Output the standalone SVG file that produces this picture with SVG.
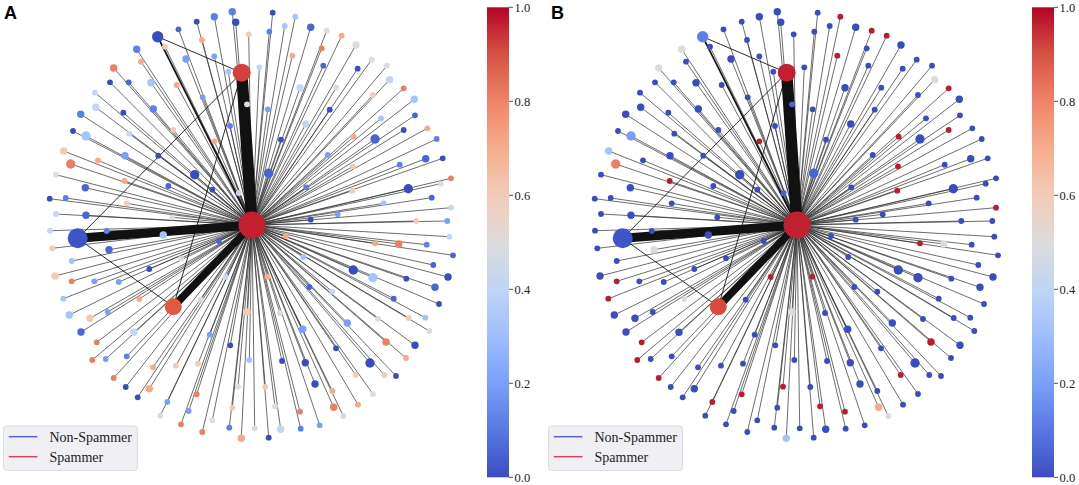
<svg xmlns="http://www.w3.org/2000/svg" xmlns:xlink="http://www.w3.org/1999/xlink" width="1079" height="485" viewBox="0 0 1079 485">
<style>
.sp{fill:none;stroke:#333;stroke-width:0.85;stroke-opacity:0.85}
.ex{fill:none;stroke:#151515;stroke-width:0.9}
.th{stroke:#111;stroke-linecap:butt}
.c0{fill:#3b4cc0}.c1{fill:#4b64d5}.c2{fill:#5f7fe8}.c3{fill:#7b9ff9}.c4{fill:#a5c3fe}.c5{fill:#c6d6f1}.c6{fill:#dddcdc}.c7{fill:#f2cbb7}.c8{fill:#f6a98b}.c9{fill:#ec7f63}.cr{fill:#bf1b30}
.lbl{font-family:"Liberation Sans",Arial,sans-serif;font-weight:bold;font-size:18px;fill:#000}
.tl{font-family:"Liberation Serif","DejaVu Serif",serif;font-size:12.5px;fill:#222}
.lg{font-family:"Liberation Serif","DejaVu Serif",serif;font-size:14px;fill:#222}
.tick{stroke:#222;stroke-width:0.8}
</style>
<defs>
<linearGradient id="cw" x1="0" y1="1" x2="0" y2="0">
<stop offset="0" stop-color="#3b4cc0"/><stop offset="0.1" stop-color="#5977e3"/><stop offset="0.2" stop-color="#7b9ff9"/><stop offset="0.3" stop-color="#9ebeff"/><stop offset="0.4" stop-color="#c0d4f5"/><stop offset="0.5" stop-color="#dddcdc"/><stop offset="0.6" stop-color="#f2cbb7"/><stop offset="0.7" stop-color="#f7ac8e"/><stop offset="0.8" stop-color="#ee8468"/><stop offset="0.9" stop-color="#d65244"/><stop offset="1" stop-color="#b40426"/>
</linearGradient>
<path id="spokes" d="M252 225L178.5 29.3M252 225L165 46.7M252 225L136.7 49.3M252 225L141 61.7M252 225L113.7 68M252 225L110 82.3M252 225L128.7 82.3M252 225L151 82.7M252 225L176.7 85M252 225L95 92.7M252 225L95.7 107.3M252 225L123.3 112.7M252 225L153.3 109M252 225L80.7 114.3M252 225L73 131M252 225L86 136M252 225L129.3 133.7M252 225L173.3 130M252 225L158.3 155.7M252 225L63.7 151M252 225L70.7 164M252 225L98 160.3M252 225L125 155.7M252 225L56 174.7M252 225L124.7 181M252 225L85.3 187.7M252 225L168.3 186M252 225L49.7 198.7M252 225L65.7 198M252 225L126.7 203.3M252 225L56 214M252 225L86 215.3M252 225L172.3 217.3M252 225L196.7 21.7M252 225L214.3 16.7M252 225L232.3 11.7M252 225L235.7 22.3M252 225L272.7 12.7M252 225L295.3 16.7M252 225L248.7 34.3M252 225L269.3 31.7M252 225L284.7 26M252 225L310.7 27.3M252 225L202 40M252 225L186 59M252 225L214.3 56.3M252 225L292.3 55.7M252 225L321.7 48.3M252 225L323.3 65.7M252 225L228.3 71.7M252 225L259.3 67.3M252 225L300 87.7M252 225L202.7 97.3M252 225L247 104.3M252 225L267.7 109.3M252 225L230 126M252 225L305.7 124M252 225L214.3 141.3M252 225L281 139.7M252 225L194.7 174.7M252 225L268.7 173.3M252 225L212.3 189.7M252 225L238.7 193M252 225L306.3 187.3M252 225L310.7 219.7M252 225L326.7 30.7M252 225L341.7 35.7M252 225L356 45M252 225L371.7 59.7M252 225L357.7 68.7M252 225L387 65.7M252 225L389.7 79.7M252 225L336.3 87.7M252 225L403.7 88.3M252 225L373 95M252 225L414.3 99.3M252 225L329.7 109.7M252 225L415 115.3M252 225L381 118.3M252 225L403.7 130M252 225L427.3 128.3M252 225L353.7 136.7M252 225L375 139M252 225L436.7 139M252 225L327.7 155M252 225L399.7 164.7M252 225L425.7 158.7M252 225L442.7 158.3M252 225L353 166.3M252 225L451 178.3M252 225L440.7 183.7M252 225L408.3 188.7M252 225L431.7 197.7M252 225L352.3 190.7M252 225L383.7 203.3M252 225L451 207.7M252 225L337.7 214.3M252 225L447.3 221M252 225L416.3 221M252 225L50 230.7M252 225L106.7 231M252 225L163.3 235M252 225L52.3 248.3M252 225L109 249.7M252 225L71.7 261M252 225L149.3 269M252 225L55 276M252 225L71.7 281.3M252 225L94.3 281.3M252 225L118.7 282M252 225L63.3 298.7M252 225L139.3 299M252 225L69.3 315M252 225L90 318.3M252 225L107.7 312M252 225L81 332M252 225L134 332.3M252 225L96.7 342.3M252 225L92.3 360M252 225L105.7 359M252 225L126.7 356.3M252 225L153 367.3M252 225L176 365.7M252 225L113.7 378M252 225L125.7 387M252 225L149.3 388.7M252 225L137.7 397.3M252 225L167.3 402M252 225L160.3 415.7M252 225L181 424.3M252 225L286 236M252 225L218.7 241M252 225L303.3 257M252 225L225.7 277M252 225L267.3 276.7M252 225L309.3 287M252 225L200.7 299.7M252 225L247 312M252 225L280 313M252 225L302.7 329.3M252 225L209.7 334.7M252 225L230.3 345.3M252 225L249.3 360M252 225L282 361M252 225L305.3 362.7M252 225L198 363.7M252 225L315 384M252 225L238 386.7M252 225L265.3 387M252 225L196.7 394.3M252 225L188.7 411M252 225L232.3 407.7M252 225L275 406.3M252 225L300 411.7M252 225L212.3 420.3M252 225L202.3 432M252 225L229.3 427.7M252 225L254.7 428.3M252 225L241.3 438.3M252 225L268.7 437.7M252 225L280.7 429.3M252 225L300.7 428.7M252 225L319.7 425.3M252 225L181 258.3M252 225L449.3 236.7M252 225L375 243.3M252 225L398.7 244M252 225L426.7 244.7M252 225L453 255.3M252 225L433.3 265M252 225L353.3 270M252 225L373 277.7M252 225L406.3 278.7M252 225L448 277M252 225L435 287.3M252 225L332.3 291.7M252 225L393.7 298.7M252 225L439 304M252 225L378 319M252 225L408.7 318M252 225L425.3 317.7M252 225L429.3 331M252 225L347.3 323M252 225L386 342M252 225L415 345.3M252 225L336 348.3M252 225L406 358M252 225L370 363M252 225L355.7 375M252 225L384.3 375M252 225L396 376M252 225L332.3 391M252 225L373 394M252 225L333.7 407.3M252 225L358 404.7M252 225L343.3 416"/>
<g id="edges">
<use xlink:href="#spokes" href="#spokes" class="sp"/>
<path class="ex" d="M157.7 36.7L241.7 72.7M241.7 72.7L77.7 238.3M241.7 72.7L173.3 306.7M77.7 238.3L173.3 306.7"/>
<path class="ex" style="stroke-width:1.8" d="M157.7 36.7L252 225"/>
<line class="th" x1="252" y1="225" x2="241.7" y2="72.7" stroke-width="11.5"/>
<line class="th" x1="252" y1="225" x2="77.7" y2="238.3" stroke-width="9"/>
<line class="th" x1="252" y1="225" x2="173.3" y2="306.7" stroke-width="7.5"/>
</g>
<g id="colorbar">
<rect x="487" y="7.3" width="22" height="470" fill="url(#cw)"/>
<path class="tick" d="M509 7.3h4M509 101.3h4M509 195.3h4M509 289.3h4M509 383.3h4M509 477.3h4"/>
<text class="tl" x="514.5" y="11.6">1.0</text>
<text class="tl" x="514.5" y="105.6">0.8</text>
<text class="tl" x="514.5" y="199.6">0.6</text>
<text class="tl" x="514.5" y="293.6">0.4</text>
<text class="tl" x="514.5" y="387.6">0.2</text>
<text class="tl" x="514.5" y="481.6">0.0</text>
</g>
<g id="legend">
<rect x="3.5" y="426" width="134" height="44.5" rx="3" fill="#efeff4" stroke="#d6d6dd" stroke-width="0.8"/>
<line x1="8.7" y1="436.7" x2="37.4" y2="436.7" stroke="#5866cc" stroke-width="1.5"/>
<line x1="8.7" y1="456.7" x2="37.4" y2="456.7" stroke="#cf4457" stroke-width="1.5"/>
<text class="lg" x="49.5" y="441.5">Non-Spammer</text>
<text class="lg" x="49.5" y="461.5">Spammer</text>
</g>
</defs>

<g id="panelA">
<text class="lbl" x="4" y="18.5">A</text>
<g id="connectorsA"><use xlink:href="#edges" href="#edges"/></g>
<g id="nodesA">
<circle id="a2" class="c1" cx="178.5" cy="29.3" r="2.9"/><circle id="a3" class="c7" cx="165" cy="46.7" r="2.9"/><circle id="a4" class="c2" cx="136.7" cy="49.3" r="3.7"/><circle id="a5" class="c8" cx="141" cy="61.7" r="2.9"/><circle id="a6" class="c9" cx="113.7" cy="68" r="3.7"/><circle id="a7" class="c0" cx="110" cy="82.3" r="2.9"/><circle id="a8" class="c1" cx="128.7" cy="82.3" r="2.9"/><circle id="a9" class="c4" cx="151" cy="82.7" r="3.7"/><circle id="a10" class="c8" cx="176.7" cy="85" r="2.9"/><circle id="a11" class="c5" cx="95" cy="92.7" r="2.9"/><circle id="a12" class="c5" cx="95.7" cy="107.3" r="3.7"/><circle id="a13" class="c0" cx="123.3" cy="112.7" r="2.9"/><circle id="a14" class="c2" cx="153.3" cy="109" r="3.7"/><circle id="a15" class="c2" cx="80.7" cy="114.3" r="3.7"/><circle id="a16" class="c0" cx="73" cy="131" r="2.9"/><circle id="a17" class="c4" cx="86" cy="136" r="4.7"/><circle id="a18" class="c5" cx="129.3" cy="133.7" r="2.9"/><circle id="a19" class="c7" cx="173.3" cy="130" r="2.9"/><circle id="a20" class="c0" cx="158.3" cy="155.7" r="2.9"/><circle id="a21" class="c7" cx="63.7" cy="151" r="3.7"/><circle id="a22" class="c9" cx="70.7" cy="164" r="4.7"/><circle id="a23" class="c8" cx="98" cy="160.3" r="2.9"/><circle id="a24" class="c3" cx="125" cy="155.7" r="3.7"/><circle id="a25" class="c6" cx="56" cy="174.7" r="2.9"/><circle id="a26" class="c8" cx="124.7" cy="181" r="2.9"/><circle id="a27" class="c1" cx="85.3" cy="187.7" r="3.7"/><circle id="a28" class="c1" cx="168.3" cy="186" r="2.9"/><circle id="a29" class="c0" cx="49.7" cy="198.7" r="2.9"/><circle id="a30" class="c2" cx="65.7" cy="198" r="2.9"/><circle id="a31" class="c7" cx="126.7" cy="203.3" r="2.9"/><circle id="a32" class="c5" cx="56" cy="214" r="2.9"/><circle id="a33" class="c1" cx="86" cy="215.3" r="3.7"/><circle id="a34" class="c6" cx="172.3" cy="217.3" r="2.9"/>
<circle id="a35" class="c0" cx="196.7" cy="21.7" r="2.9"/><circle id="a36" class="c2" cx="214.3" cy="16.7" r="3.7"/><circle id="a37" class="c2" cx="232.3" cy="11.7" r="3.7"/><circle id="a38" class="c0" cx="235.7" cy="22.3" r="3.7"/><circle id="a39" class="c0" cx="272.7" cy="12.7" r="2.9"/><circle id="a40" class="c4" cx="295.3" cy="16.7" r="2.9"/><circle id="a41" class="c7" cx="248.7" cy="34.3" r="2.9"/><circle id="a42" class="c2" cx="269.3" cy="31.7" r="2.9"/><circle id="a43" class="c4" cx="284.7" cy="26" r="2.9"/><circle id="a44" class="c1" cx="310.7" cy="27.3" r="3.7"/><circle id="a45" class="c8" cx="202" cy="40" r="2.9"/><circle id="a46" class="c3" cx="186" cy="59" r="3.7"/><circle id="a47" class="c3" cx="214.3" cy="56.3" r="2.9"/><circle id="a48" class="c8" cx="292.3" cy="55.7" r="2.9"/><circle id="a49" class="c9" cx="321.7" cy="48.3" r="2.9"/><circle id="a50" class="c1" cx="323.3" cy="65.7" r="2.9"/><circle id="a51" class="c4" cx="228.3" cy="71.7" r="2.9"/><circle id="a52" class="c5" cx="259.3" cy="67.3" r="2.9"/><circle id="a53" class="c5" cx="300" cy="87.7" r="3.7"/><circle id="a54" class="c3" cx="202.7" cy="97.3" r="2.9"/><circle id="a55" class="c6" cx="247" cy="104.3" r="2.9"/><circle id="a56" class="c3" cx="267.7" cy="109.3" r="2.9"/><circle id="a57" class="c2" cx="230" cy="126" r="2.9"/><circle id="a58" class="c5" cx="305.7" cy="124" r="3.7"/><circle id="a59" class="c8" cx="214.3" cy="141.3" r="2.9"/><circle id="a60" class="c0" cx="281" cy="139.7" r="2.9"/><circle id="a61" class="c0" cx="194.7" cy="174.7" r="4.7"/><circle id="a62" class="c1" cx="268.7" cy="173.3" r="4.7"/><circle id="a63" class="c0" cx="212.3" cy="189.7" r="2.9"/><circle id="a64" class="c5" cx="238.7" cy="193" r="2.9"/><circle id="a65" class="c2" cx="306.3" cy="187.3" r="2.9"/><circle id="a66" class="c0" cx="310.7" cy="219.7" r="2.9"/>
<circle id="a67" class="c6" cx="326.7" cy="30.7" r="2.9"/><circle id="a68" class="c8" cx="341.7" cy="35.7" r="2.9"/><circle id="a69" class="c6" cx="356" cy="45" r="3.7"/><circle id="a70" class="c6" cx="371.7" cy="59.7" r="2.9"/><circle id="a71" class="c0" cx="357.7" cy="68.7" r="2.9"/><circle id="a72" class="c6" cx="387" cy="65.7" r="2.9"/><circle id="a73" class="c5" cx="389.7" cy="79.7" r="3.7"/><circle id="a74" class="c6" cx="336.3" cy="87.7" r="2.9"/><circle id="a75" class="c9" cx="403.7" cy="88.3" r="2.9"/><circle id="a76" class="c7" cx="373" cy="95" r="2.9"/><circle id="a77" class="c4" cx="414.3" cy="99.3" r="3.7"/><circle id="a78" class="c0" cx="329.7" cy="109.7" r="2.9"/><circle id="a79" class="c1" cx="415" cy="115.3" r="2.9"/><circle id="a80" class="c4" cx="381" cy="118.3" r="2.9"/><circle id="a81" class="c0" cx="403.7" cy="130" r="2.9"/><circle id="a82" class="c8" cx="427.3" cy="128.3" r="2.9"/><circle id="a83" class="c8" cx="353.7" cy="136.7" r="2.9"/><circle id="a84" class="c1" cx="375" cy="139" r="4.7"/><circle id="a85" class="c2" cx="436.7" cy="139" r="2.9"/><circle id="a86" class="c3" cx="327.7" cy="155" r="2.9"/><circle id="a87" class="c2" cx="399.7" cy="164.7" r="2.9"/><circle id="a88" class="c1" cx="425.7" cy="158.7" r="3.7"/><circle id="a89" class="c0" cx="442.7" cy="158.3" r="2.9"/><circle id="a90" class="c7" cx="353" cy="166.3" r="2.9"/><circle id="a91" class="c9" cx="451" cy="178.3" r="2.9"/><circle id="a92" class="c6" cx="440.7" cy="183.7" r="2.9"/><circle id="a93" class="c0" cx="408.3" cy="188.7" r="4.7"/><circle id="a94" class="c1" cx="431.7" cy="197.7" r="2.9"/><circle id="a95" class="c7" cx="352.3" cy="190.7" r="2.9"/><circle id="a96" class="c4" cx="383.7" cy="203.3" r="2.9"/><circle id="a97" class="c5" cx="451" cy="207.7" r="2.9"/><circle id="a98" class="c3" cx="337.7" cy="214.3" r="2.9"/><circle id="a99" class="c3" cx="447.3" cy="221" r="2.9"/><circle id="a100" class="c7" cx="416.3" cy="221" r="2.9"/>
<circle id="a101" class="c5" cx="50" cy="230.7" r="2.9"/><circle id="a102" class="c2" cx="106.7" cy="231" r="2.9"/><circle id="a103" class="c4" cx="163.3" cy="235" r="3.7"/><circle id="a104" class="c7" cx="52.3" cy="248.3" r="2.9"/><circle id="a105" class="c1" cx="109" cy="249.7" r="3.7"/><circle id="a106" class="c4" cx="71.7" cy="261" r="2.9"/><circle id="a107" class="c0" cx="149.3" cy="269" r="2.9"/><circle id="a108" class="c7" cx="55" cy="276" r="3.7"/><circle id="a109" class="c9" cx="71.7" cy="281.3" r="2.9"/><circle id="a110" class="c3" cx="94.3" cy="281.3" r="2.9"/><circle id="a111" class="c3" cx="118.7" cy="282" r="2.9"/><circle id="a112" class="c4" cx="63.3" cy="298.7" r="2.9"/><circle id="a113" class="c8" cx="139.3" cy="299" r="2.9"/><circle id="a114" class="c4" cx="69.3" cy="315" r="3.7"/><circle id="a115" class="c7" cx="90" cy="318.3" r="3.7"/><circle id="a116" class="c3" cx="107.7" cy="312" r="2.9"/><circle id="a117" class="c1" cx="81" cy="332" r="3.7"/><circle id="a118" class="c5" cx="134" cy="332.3" r="3.7"/><circle id="a119" class="c9" cx="96.7" cy="342.3" r="2.9"/><circle id="a120" class="c9" cx="92.3" cy="360" r="2.9"/><circle id="a121" class="c3" cx="105.7" cy="359" r="2.9"/><circle id="a122" class="c2" cx="126.7" cy="356.3" r="2.9"/><circle id="a123" class="c8" cx="153" cy="367.3" r="2.9"/><circle id="a124" class="c7" cx="176" cy="365.7" r="2.9"/><circle id="a125" class="c9" cx="113.7" cy="378" r="2.9"/><circle id="a126" class="c0" cx="125.7" cy="387" r="2.9"/><circle id="a127" class="c8" cx="149.3" cy="388.7" r="3.7"/><circle id="a128" class="c0" cx="137.7" cy="397.3" r="2.9"/><circle id="a129" class="c3" cx="167.3" cy="402" r="2.9"/><circle id="a130" class="c6" cx="160.3" cy="415.7" r="2.9"/><circle id="a131" class="c9" cx="181" cy="424.3" r="2.9"/>
<circle id="a132" class="c8" cx="286" cy="236" r="2.9"/><circle id="a133" class="c1" cx="218.7" cy="241" r="2.9"/><circle id="a134" class="c4" cx="303.3" cy="257" r="2.9"/><circle id="a135" class="c5" cx="225.7" cy="277" r="2.9"/><circle id="a136" class="c8" cx="267.3" cy="276.7" r="2.9"/><circle id="a137" class="c1" cx="309.3" cy="287" r="2.9"/><circle id="a138" class="c6" cx="200.7" cy="299.7" r="2.9"/><circle id="a139" class="c7" cx="247" cy="312" r="3.7"/><circle id="a140" class="c6" cx="280" cy="313" r="2.9"/><circle id="a141" class="c3" cx="302.7" cy="329.3" r="3.7"/><circle id="a142" class="c3" cx="209.7" cy="334.7" r="2.9"/><circle id="a143" class="c0" cx="230.3" cy="345.3" r="2.9"/><circle id="a144" class="c4" cx="249.3" cy="360" r="2.9"/><circle id="a145" class="c0" cx="282" cy="361" r="2.9"/><circle id="a146" class="c0" cx="305.3" cy="362.7" r="3.7"/><circle id="a147" class="c7" cx="198" cy="363.7" r="2.9"/><circle id="a148" class="c0" cx="315" cy="384" r="3.7"/><circle id="a149" class="c6" cx="238" cy="386.7" r="2.9"/><circle id="a150" class="c7" cx="265.3" cy="387" r="2.9"/><circle id="a151" class="c9" cx="196.7" cy="394.3" r="2.9"/><circle id="a152" class="c3" cx="188.7" cy="411" r="2.9"/><circle id="a153" class="c7" cx="232.3" cy="407.7" r="2.9"/><circle id="a154" class="c6" cx="275" cy="406.3" r="2.9"/><circle id="a155" class="c9" cx="300" cy="411.7" r="2.9"/><circle id="a156" class="c6" cx="212.3" cy="420.3" r="2.9"/><circle id="a157" class="c9" cx="202.3" cy="432" r="2.9"/><circle id="a158" class="c2" cx="229.3" cy="427.7" r="2.9"/><circle id="a159" class="c6" cx="254.7" cy="428.3" r="2.9"/><circle id="a160" class="c8" cx="241.3" cy="438.3" r="3.7"/><circle id="a161" class="c0" cx="268.7" cy="437.7" r="2.9"/><circle id="a162" class="c5" cx="280.7" cy="429.3" r="3.7"/><circle id="a163" class="c2" cx="300.7" cy="428.7" r="2.9"/><circle id="a164" class="c3" cx="319.7" cy="425.3" r="2.9"/><circle id="a165" class="c6" cx="181" cy="258.3" r="2.9"/>
<circle id="a166" class="c5" cx="449.3" cy="236.7" r="2.9"/><circle id="a167" class="c8" cx="375" cy="243.3" r="2.9"/><circle id="a168" class="c9" cx="398.7" cy="244" r="3.7"/><circle id="a169" class="c2" cx="426.7" cy="244.7" r="2.9"/><circle id="a170" class="c1" cx="453" cy="255.3" r="2.9"/><circle id="a171" class="c1" cx="433.3" cy="265" r="2.9"/><circle id="a172" class="c0" cx="353.3" cy="270" r="4.7"/><circle id="a173" class="c4" cx="373" cy="277.7" r="4.7"/><circle id="a174" class="c0" cx="406.3" cy="278.7" r="2.9"/><circle id="a175" class="c0" cx="448" cy="277" r="3.7"/><circle id="a176" class="c1" cx="435" cy="287.3" r="3.7"/><circle id="a177" class="c5" cx="332.3" cy="291.7" r="2.9"/><circle id="a178" class="c1" cx="393.7" cy="298.7" r="2.9"/><circle id="a179" class="c0" cx="439" cy="304" r="2.9"/><circle id="a180" class="c6" cx="378" cy="319" r="2.9"/><circle id="a181" class="c7" cx="408.7" cy="318" r="2.9"/><circle id="a182" class="c4" cx="425.3" cy="317.7" r="2.9"/><circle id="a183" class="c6" cx="429.3" cy="331" r="2.9"/><circle id="a184" class="c3" cx="347.3" cy="323" r="3.7"/><circle id="a185" class="c9" cx="386" cy="342" r="3.7"/><circle id="a186" class="c0" cx="415" cy="345.3" r="3.7"/><circle id="a187" class="c0" cx="336" cy="348.3" r="2.9"/><circle id="a188" class="c8" cx="406" cy="358" r="2.9"/><circle id="a189" class="c0" cx="370" cy="363" r="4.7"/><circle id="a190" class="c7" cx="355.7" cy="375" r="2.9"/><circle id="a191" class="c7" cx="384.3" cy="375" r="2.9"/><circle id="a192" class="c0" cx="396" cy="376" r="2.9"/><circle id="a193" class="c8" cx="332.3" cy="391" r="2.9"/><circle id="a194" class="c6" cx="373" cy="394" r="2.9"/><circle id="a195" class="c9" cx="333.7" cy="407.3" r="3.7"/><circle id="a196" class="c8" cx="358" cy="404.7" r="2.9"/><circle id="a197" class="c6" cx="343.3" cy="416" r="2.9"/>
<g id="a1"><circle class="c0" cx="157.7" cy="36.7" r="5.7"/></g>
<g id="topA"><circle cx="241.7" cy="72.7" r="9" fill="#d6403a"/></g>
<g id="leftA"><circle cx="77.7" cy="238.3" r="10" fill="#3f53c6"/></g>
<g id="bottomA"><circle cx="173.3" cy="306.7" r="8.5" fill="#e05a45"/></g>
<g id="hubA"><circle cx="252" cy="225" r="13.5" fill="#c4202f"/></g>
</g>
<use xlink:href="#colorbar" href="#colorbar"/>
<use xlink:href="#legend" href="#legend"/>
</g>

<g id="panelB" transform="translate(545,0)">
<text class="lbl" x="6" y="18.5">B</text>
<g id="connectorsB"><use xlink:href="#edges" href="#edges"/></g>
<g id="nodesB">
<circle id="b2" class="c0" cx="178.5" cy="29.3" r="2.9"/><circle id="b3" class="c0" cx="165" cy="46.7" r="2.9"/><circle id="b4" class="c6" cx="136.7" cy="49.3" r="3.7"/><circle id="b5" class="c0" cx="141" cy="61.7" r="2.9"/><circle id="b6" class="c6" cx="113.7" cy="68" r="3.7"/><circle id="b7" class="c0" cx="110" cy="82.3" r="2.9"/><circle id="b8" class="c0" cx="128.7" cy="82.3" r="2.9"/><circle id="b9" class="c0" cx="151" cy="82.7" r="3.7"/><circle id="b10" class="c0" cx="176.7" cy="85" r="2.9"/><circle id="b11" class="c0" cx="95" cy="92.7" r="2.9"/><circle id="b12" class="c0" cx="95.7" cy="107.3" r="3.7"/><circle id="b13" class="c0" cx="123.3" cy="112.7" r="2.9"/><circle id="b14" class="c0" cx="153.3" cy="109" r="3.7"/><circle id="b15" class="c0" cx="80.7" cy="114.3" r="3.7"/><circle id="b16" class="c0" cx="73" cy="131" r="2.9"/><circle id="b17" class="c3" cx="86" cy="136" r="4.7"/><circle id="b18" class="c0" cx="129.3" cy="133.7" r="2.9"/><circle id="b19" class="c0" cx="173.3" cy="130" r="2.9"/><circle id="b20" class="c0" cx="158.3" cy="155.7" r="2.9"/><circle id="b21" class="c4" cx="63.7" cy="151" r="3.7"/><circle id="b22" class="c9" cx="70.7" cy="164" r="4.7"/><circle id="b23" class="c0" cx="98" cy="160.3" r="2.9"/><circle id="b24" class="c0" cx="125" cy="155.7" r="3.7"/><circle id="b25" class="c0" cx="56" cy="174.7" r="2.9"/><circle id="b26" class="cr" cx="124.7" cy="181" r="2.9"/><circle id="b27" class="c0" cx="85.3" cy="187.7" r="3.7"/><circle id="b28" class="c0" cx="168.3" cy="186" r="2.9"/><circle id="b29" class="c0" cx="49.7" cy="198.7" r="2.9"/><circle id="b30" class="c0" cx="65.7" cy="198" r="2.9"/><circle id="b31" class="c0" cx="126.7" cy="203.3" r="2.9"/><circle id="b32" class="c0" cx="56" cy="214" r="2.9"/><circle id="b33" class="c0" cx="86" cy="215.3" r="3.7"/><circle id="b34" class="c0" cx="172.3" cy="217.3" r="2.9"/>
<circle id="b35" class="c0" cx="196.7" cy="21.7" r="2.9"/><circle id="b36" class="c0" cx="214.3" cy="16.7" r="3.7"/><circle id="b37" class="c0" cx="232.3" cy="11.7" r="3.7"/><circle id="b38" class="c0" cx="235.7" cy="22.3" r="3.7"/><circle id="b39" class="c0" cx="272.7" cy="12.7" r="2.9"/><circle id="b40" class="cr" cx="295.3" cy="16.7" r="2.9"/><circle id="b41" class="c0" cx="248.7" cy="34.3" r="2.9"/><circle id="b42" class="c0" cx="269.3" cy="31.7" r="2.9"/><circle id="b43" class="c0" cx="284.7" cy="26" r="2.9"/><circle id="b44" class="c0" cx="310.7" cy="27.3" r="3.7"/><circle id="b45" class="c0" cx="202" cy="40" r="2.9"/><circle id="b46" class="c0" cx="186" cy="59" r="3.7"/><circle id="b47" class="c0" cx="214.3" cy="56.3" r="2.9"/><circle id="b48" class="cr" cx="292.3" cy="55.7" r="2.9"/><circle id="b49" class="c0" cx="321.7" cy="48.3" r="2.9"/><circle id="b50" class="c0" cx="323.3" cy="65.7" r="2.9"/><circle id="b51" class="c0" cx="228.3" cy="71.7" r="2.9"/><circle id="b52" class="c0" cx="259.3" cy="67.3" r="2.9"/><circle id="b53" class="c0" cx="300" cy="87.7" r="3.7"/><circle id="b54" class="c0" cx="202.7" cy="97.3" r="2.9"/><circle id="b55" class="c1" cx="247" cy="104.3" r="2.9"/><circle id="b56" class="c0" cx="267.7" cy="109.3" r="2.9"/><circle id="b57" class="c0" cx="230" cy="126" r="2.9"/><circle id="b58" class="c0" cx="305.7" cy="124" r="3.7"/><circle id="b59" class="cr" cx="214.3" cy="141.3" r="2.9"/><circle id="b60" class="c0" cx="281" cy="139.7" r="2.9"/><circle id="b61" class="c0" cx="194.7" cy="174.7" r="4.7"/><circle id="b62" class="c1" cx="268.7" cy="173.3" r="4.7"/><circle id="b63" class="c0" cx="212.3" cy="189.7" r="2.9"/><circle id="b64" class="c1" cx="238.7" cy="193" r="2.9"/><circle id="b65" class="c0" cx="306.3" cy="187.3" r="2.9"/><circle id="b66" class="c0" cx="310.7" cy="219.7" r="2.9"/>
<circle id="b67" class="cr" cx="326.7" cy="30.7" r="2.9"/><circle id="b68" class="cr" cx="341.7" cy="35.7" r="2.9"/><circle id="b69" class="c0" cx="356" cy="45" r="3.7"/><circle id="b70" class="c0" cx="371.7" cy="59.7" r="2.9"/><circle id="b71" class="c0" cx="357.7" cy="68.7" r="2.9"/><circle id="b72" class="c0" cx="387" cy="65.7" r="2.9"/><circle id="b73" class="c6" cx="389.7" cy="79.7" r="3.7"/><circle id="b74" class="c0" cx="336.3" cy="87.7" r="2.9"/><circle id="b75" class="cr" cx="403.7" cy="88.3" r="2.9"/><circle id="b76" class="c0" cx="373" cy="95" r="2.9"/><circle id="b77" class="c0" cx="414.3" cy="99.3" r="3.7"/><circle id="b78" class="c0" cx="329.7" cy="109.7" r="2.9"/><circle id="b79" class="c0" cx="415" cy="115.3" r="2.9"/><circle id="b80" class="c0" cx="381" cy="118.3" r="2.9"/><circle id="b81" class="cr" cx="403.7" cy="130" r="2.9"/><circle id="b82" class="c0" cx="427.3" cy="128.3" r="2.9"/><circle id="b83" class="cr" cx="353.7" cy="136.7" r="2.9"/><circle id="b84" class="c0" cx="375" cy="139" r="4.7"/><circle id="b85" class="c0" cx="436.7" cy="139" r="2.9"/><circle id="b86" class="c0" cx="327.7" cy="155" r="2.9"/><circle id="b87" class="c0" cx="399.7" cy="164.7" r="2.9"/><circle id="b88" class="c0" cx="425.7" cy="158.7" r="3.7"/><circle id="b89" class="c0" cx="442.7" cy="158.3" r="2.9"/><circle id="b90" class="cr" cx="353" cy="166.3" r="2.9"/><circle id="b91" class="c0" cx="451" cy="178.3" r="2.9"/><circle id="b92" class="c0" cx="440.7" cy="183.7" r="2.9"/><circle id="b93" class="c0" cx="408.3" cy="188.7" r="4.7"/><circle id="b94" class="c0" cx="431.7" cy="197.7" r="2.9"/><circle id="b95" class="cr" cx="352.3" cy="190.7" r="2.9"/><circle id="b96" class="c0" cx="383.7" cy="203.3" r="2.9"/><circle id="b97" class="cr" cx="451" cy="207.7" r="2.9"/><circle id="b98" class="c0" cx="337.7" cy="214.3" r="2.9"/><circle id="b99" class="c0" cx="447.3" cy="221" r="2.9"/><circle id="b100" class="c0" cx="416.3" cy="221" r="2.9"/>
<circle id="b101" class="c0" cx="50" cy="230.7" r="2.9"/><circle id="b102" class="c0" cx="106.7" cy="231" r="2.9"/><circle id="b103" class="c0" cx="163.3" cy="235" r="3.7"/><circle id="b104" class="c0" cx="52.3" cy="248.3" r="2.9"/><circle id="b105" class="c6" cx="109" cy="249.7" r="3.7"/><circle id="b106" class="c0" cx="71.7" cy="261" r="2.9"/><circle id="b107" class="c0" cx="149.3" cy="269" r="2.9"/><circle id="b108" class="c0" cx="55" cy="276" r="3.7"/><circle id="b109" class="cr" cx="71.7" cy="281.3" r="2.9"/><circle id="b110" class="c0" cx="94.3" cy="281.3" r="2.9"/><circle id="b111" class="c0" cx="118.7" cy="282" r="2.9"/><circle id="b112" class="cr" cx="63.3" cy="298.7" r="2.9"/><circle id="b113" class="c6" cx="139.3" cy="299" r="2.9"/><circle id="b114" class="c0" cx="69.3" cy="315" r="3.7"/><circle id="b115" class="c0" cx="90" cy="318.3" r="3.7"/><circle id="b116" class="c0" cx="107.7" cy="312" r="2.9"/><circle id="b117" class="c0" cx="81" cy="332" r="3.7"/><circle id="b118" class="c0" cx="134" cy="332.3" r="3.7"/><circle id="b119" class="cr" cx="96.7" cy="342.3" r="2.9"/><circle id="b120" class="cr" cx="92.3" cy="360" r="2.9"/><circle id="b121" class="c0" cx="105.7" cy="359" r="2.9"/><circle id="b122" class="c0" cx="126.7" cy="356.3" r="2.9"/><circle id="b123" class="c0" cx="153" cy="367.3" r="2.9"/><circle id="b124" class="c0" cx="176" cy="365.7" r="2.9"/><circle id="b125" class="cr" cx="113.7" cy="378" r="2.9"/><circle id="b126" class="c0" cx="125.7" cy="387" r="2.9"/><circle id="b127" class="c0" cx="149.3" cy="388.7" r="3.7"/><circle id="b128" class="c0" cx="137.7" cy="397.3" r="2.9"/><circle id="b129" class="cr" cx="167.3" cy="402" r="2.9"/><circle id="b130" class="c0" cx="160.3" cy="415.7" r="2.9"/><circle id="b131" class="c0" cx="181" cy="424.3" r="2.9"/>
<circle id="b132" class="c0" cx="286" cy="236" r="2.9"/><circle id="b133" class="c0" cx="218.7" cy="241" r="2.9"/><circle id="b134" class="c0" cx="303.3" cy="257" r="2.9"/><circle id="b135" class="cr" cx="225.7" cy="277" r="2.9"/><circle id="b136" class="cr" cx="267.3" cy="276.7" r="2.9"/><circle id="b137" class="c0" cx="309.3" cy="287" r="2.9"/><circle id="b138" class="c0" cx="200.7" cy="299.7" r="2.9"/><circle id="b139" class="c6" cx="247" cy="312" r="3.7"/><circle id="b140" class="c0" cx="280" cy="313" r="2.9"/><circle id="b141" class="c0" cx="302.7" cy="329.3" r="3.7"/><circle id="b142" class="c0" cx="209.7" cy="334.7" r="2.9"/><circle id="b143" class="c0" cx="230.3" cy="345.3" r="2.9"/><circle id="b144" class="c0" cx="249.3" cy="360" r="2.9"/><circle id="b145" class="c0" cx="282" cy="361" r="2.9"/><circle id="b146" class="c0" cx="305.3" cy="362.7" r="3.7"/><circle id="b147" class="c0" cx="198" cy="363.7" r="2.9"/><circle id="b148" class="c0" cx="315" cy="384" r="3.7"/><circle id="b149" class="cr" cx="238" cy="386.7" r="2.9"/><circle id="b150" class="c0" cx="265.3" cy="387" r="2.9"/><circle id="b151" class="cr" cx="196.7" cy="394.3" r="2.9"/><circle id="b152" class="c0" cx="188.7" cy="411" r="2.9"/><circle id="b153" class="c0" cx="232.3" cy="407.7" r="2.9"/><circle id="b154" class="cr" cx="275" cy="406.3" r="2.9"/><circle id="b155" class="cr" cx="300" cy="411.7" r="2.9"/><circle id="b156" class="c0" cx="212.3" cy="420.3" r="2.9"/><circle id="b157" class="c0" cx="202.3" cy="432" r="2.9"/><circle id="b158" class="c0" cx="229.3" cy="427.7" r="2.9"/><circle id="b159" class="c0" cx="254.7" cy="428.3" r="2.9"/><circle id="b160" class="c4" cx="241.3" cy="438.3" r="3.7"/><circle id="b161" class="c0" cx="268.7" cy="437.7" r="2.9"/><circle id="b162" class="c0" cx="280.7" cy="429.3" r="3.7"/><circle id="b163" class="c0" cx="300.7" cy="428.7" r="2.9"/><circle id="b164" class="c0" cx="319.7" cy="425.3" r="2.9"/><circle id="b165" class="c0" cx="181" cy="258.3" r="2.9"/>
<circle id="b166" class="c0" cx="449.3" cy="236.7" r="2.9"/><circle id="b167" class="cr" cx="375" cy="243.3" r="2.9"/><circle id="b168" class="c6" cx="398.7" cy="244" r="3.7"/><circle id="b169" class="c0" cx="426.7" cy="244.7" r="2.9"/><circle id="b170" class="c0" cx="453" cy="255.3" r="2.9"/><circle id="b171" class="c0" cx="433.3" cy="265" r="2.9"/><circle id="b172" class="c0" cx="353.3" cy="270" r="4.7"/><circle id="b173" class="c0" cx="373" cy="277.7" r="4.7"/><circle id="b174" class="c0" cx="406.3" cy="278.7" r="2.9"/><circle id="b175" class="c0" cx="448" cy="277" r="3.7"/><circle id="b176" class="c0" cx="435" cy="287.3" r="3.7"/><circle id="b177" class="c0" cx="332.3" cy="291.7" r="2.9"/><circle id="b178" class="c0" cx="393.7" cy="298.7" r="2.9"/><circle id="b179" class="c0" cx="439" cy="304" r="2.9"/><circle id="b180" class="c0" cx="378" cy="319" r="2.9"/><circle id="b181" class="c0" cx="408.7" cy="318" r="2.9"/><circle id="b182" class="c0" cx="425.3" cy="317.7" r="2.9"/><circle id="b183" class="c0" cx="429.3" cy="331" r="2.9"/><circle id="b184" class="c0" cx="347.3" cy="323" r="3.7"/><circle id="b185" class="cr" cx="386" cy="342" r="3.7"/><circle id="b186" class="c0" cx="415" cy="345.3" r="3.7"/><circle id="b187" class="c0" cx="336" cy="348.3" r="2.9"/><circle id="b188" class="c0" cx="406" cy="358" r="2.9"/><circle id="b189" class="c0" cx="370" cy="363" r="4.7"/><circle id="b190" class="cr" cx="355.7" cy="375" r="2.9"/><circle id="b191" class="c0" cx="384.3" cy="375" r="2.9"/><circle id="b192" class="c0" cx="396" cy="376" r="2.9"/><circle id="b193" class="c0" cx="332.3" cy="391" r="2.9"/><circle id="b194" class="c0" cx="373" cy="394" r="2.9"/><circle id="b195" class="c8" cx="333.7" cy="407.3" r="3.7"/><circle id="b196" class="c0" cx="358" cy="404.7" r="2.9"/><circle id="b197" class="c6" cx="343.3" cy="416" r="2.9"/>
<g id="b1"><circle class="c2" cx="157.7" cy="36.7" r="5.7"/></g>
<g id="topB"><circle cx="241.7" cy="72.7" r="9" fill="#c41f30"/></g>
<g id="leftB"><circle cx="77.7" cy="238.3" r="10" fill="#3f55c8"/></g>
<g id="bottomB"><circle cx="173.3" cy="306.7" r="8.5" fill="#d94a3c"/></g>
<g id="hubB"><circle cx="252" cy="225" r="13.5" fill="#c0202f"/></g>
</g>
<use xlink:href="#colorbar" href="#colorbar"/>
<use xlink:href="#legend" href="#legend"/>
</g>
</svg>
